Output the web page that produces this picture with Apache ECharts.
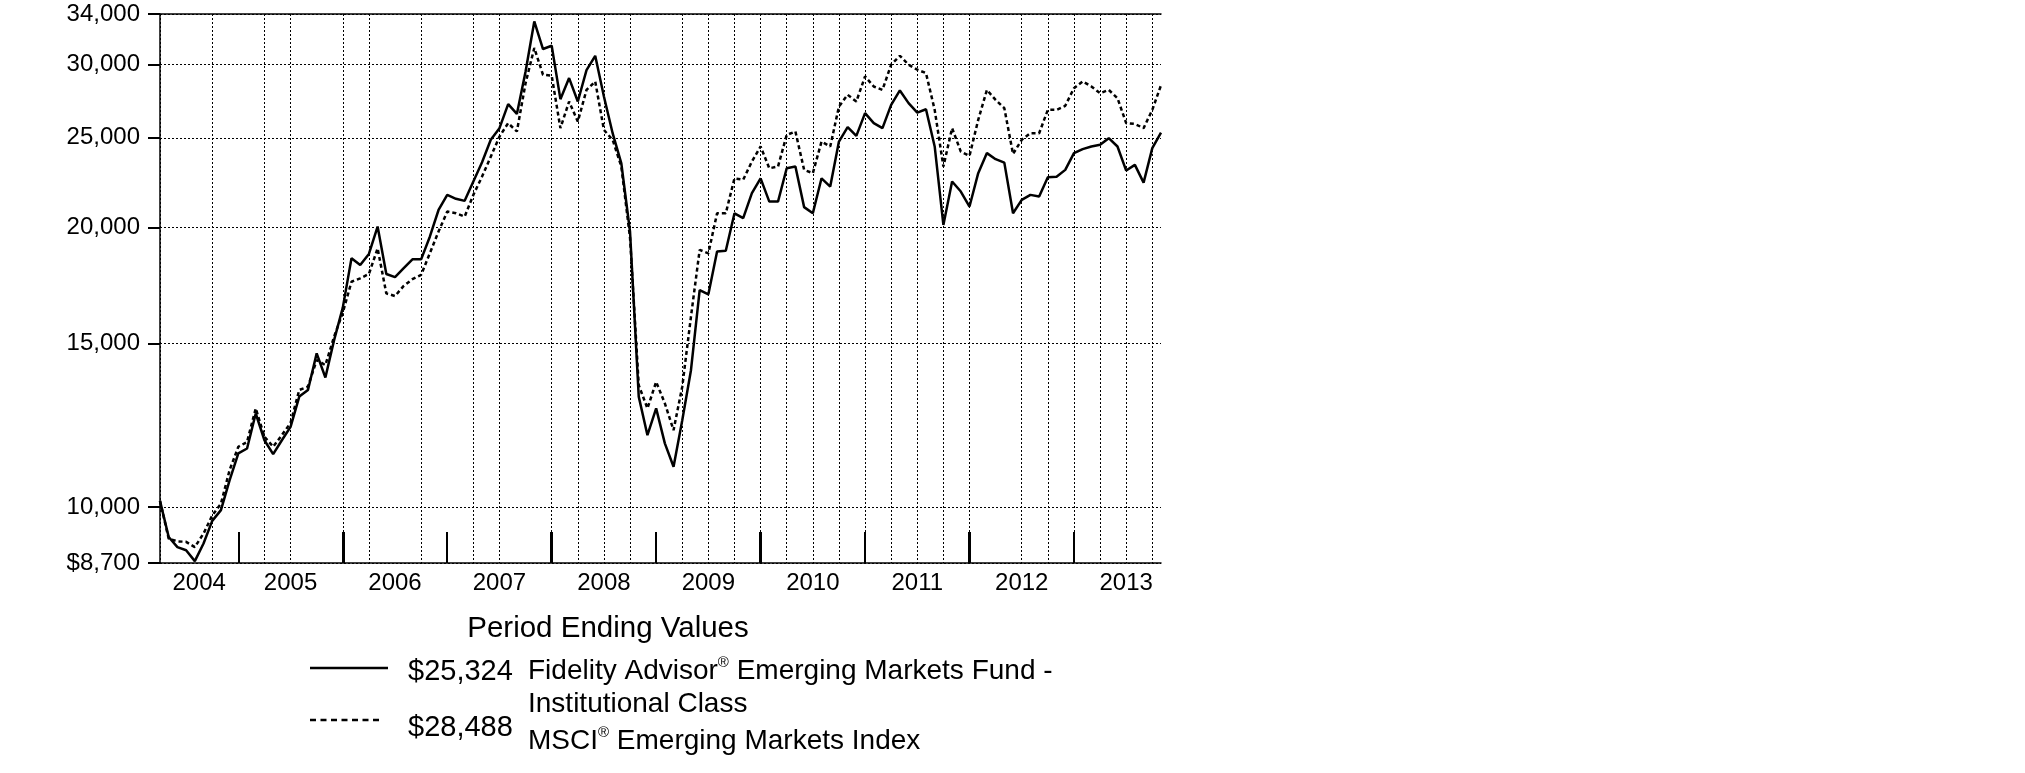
<!DOCTYPE html>
<html>
<head>
<meta charset="utf-8">
<script src="https://cdn.jsdelivr.net/npm/echarts@6/dist/echarts.min.js"></script>
<style>
html,body{margin:0;padding:0;background:#ffffff;}
#chart{width:2025px;height:773px;}
</style>
</head>
<body>
<div id="chart"></div>
<script>
// ---- data ----
const months = [
  '2004-03','2004-04','2004-05','2004-06','2004-07','2004-08','2004-09','2004-10','2004-11','2004-12',
  '2005-01','2005-02','2005-03','2005-04','2005-05','2005-06','2005-07','2005-08','2005-09','2005-10','2005-11','2005-12',
  '2006-01','2006-02','2006-03','2006-04','2006-05','2006-06','2006-07','2006-08','2006-09','2006-10','2006-11','2006-12',
  '2007-01','2007-02','2007-03','2007-04','2007-05','2007-06','2007-07','2007-08','2007-09','2007-10','2007-11','2007-12',
  '2008-01','2008-02','2008-03','2008-04','2008-05','2008-06','2008-07','2008-08','2008-09','2008-10','2008-11','2008-12',
  '2009-01','2009-02','2009-03','2009-04','2009-05','2009-06','2009-07','2009-08','2009-09','2009-10','2009-11','2009-12',
  '2010-01','2010-02','2010-03','2010-04','2010-05','2010-06','2010-07','2010-08','2010-09','2010-10','2010-11','2010-12',
  '2011-01','2011-02','2011-03','2011-04','2011-05','2011-06','2011-07','2011-08','2011-09','2011-10','2011-11','2011-12',
  '2012-01','2012-02','2012-03','2012-04','2012-05','2012-06','2012-07','2012-08','2012-09','2012-10','2012-11','2012-12',
  '2013-01','2013-02','2013-03','2013-04','2013-05','2013-06','2013-07','2013-08','2013-09','2013-10'
];

const fundValues = [
  10150, 9280, 9050, 8980, 8740, 9130, 9660, 9920, 10690, 11420,
  11560, 12610, 11800, 11400, 11800, 12200, 13150, 13370, 14640, 13790, 15130, 16400,
  18540, 18230, 18740, 20060, 17830, 17690, 18090, 18490, 18490, 19560, 20900, 21700,
  21490, 21380, 22430, 23530, 24880, 25610, 27180, 26530, 29480, 33380, 31170, 31420,
  27520, 29000, 27360, 29580, 30650, 27700, 25290, 23470, 19800, 13150, 11950, 12770,
  11710, 11050, 12400, 14040, 17130, 16950, 18850, 18890, 20730, 20480, 21790, 22610,
  21340, 21340, 23180, 23280, 21050, 20730, 22610, 22150, 24770, 25670, 25120, 26580,
  25930, 25610, 27130, 28120, 27250, 26620, 26840, 24470, 20140, 22430, 21880, 21080,
  22900, 24070, 23710, 23510, 20730, 21430, 21700, 21610, 22670, 22700, 23090, 24070,
  24310, 24470, 24570, 24980, 24470, 23050, 23380, 22370, 24370, 25324
];

const indexValues = [
  10150, 9240, 9180, 9170, 9050, 9360, 9790, 10080, 10960, 11610,
  11750, 12770, 11900, 11610, 11950, 12320, 13370, 13480, 14400, 14220, 15260, 16200,
  17490, 17640, 17830, 19000, 16990, 16880, 17310, 17600, 17790, 18770, 19810, 20820,
  20730, 20560, 21700, 22710, 23860, 25080, 25930, 25400, 28640, 31250, 29240, 29170,
  25610, 27360, 26030, 28160, 28760, 25500, 24880, 23280, 19500, 13530, 12770, 13640,
  12930, 12100, 13480, 16040, 18930, 18770, 20730, 20730, 22610, 22530, 23570, 24470,
  23180, 23280, 25180, 25400, 23090, 22900, 24770, 24470, 27020, 27820, 27360, 29120,
  28400, 28160, 29980, 30650, 29980, 29610, 29360, 26800, 23280, 25610, 24160, 23910,
  26140, 28160, 27470, 26910, 24020, 24880, 25290, 25290, 26800, 26800, 27070, 28280,
  28760, 28400, 27930, 28160, 27590, 25930, 25880, 25610, 26800, 28488
];

const yTickValues = [8700, 10000, 15000, 20000, 25000, 30000, 34000];
const yearLabels = ['2004','2005','2006','2007','2008','2009','2010','2011','2012','2013'];
const yearLabelAt = [4.5, 15, 27, 39, 51, 63, 75, 87, 99, 111];   // month index where each year label sits
const yearEndThin = [9, 33, 57, 81, 105];                           // month index of year-end ticks
const yearEndThick = [21, 45, 69, 93];
const gridMonths = [0,6,12,15,21,24,30,36,39,45,48,51,54,60,63,66,69,72,75,78,81,84,87,90,93,99,102,105,108,111,114];

const legendTitle = 'Period Ending Values';
const fundEnd = '$25,324';
const indexEnd = '$28,488';

// ---- chart ----
const FONT = '"Liberation Sans", Arial, Helvetica, sans-serif';
const yMin = Math.log10(yTickValues[0]);
const yMax = Math.log10(yTickValues[yTickValues.length - 1]);
const xMax = months.length - 1;
const yLogTicks = yTickValues.map(v => Math.log10(v));

function fmtThousands(n) {
  return String(n).replace(/\B(?=(\d{3})+(?!\d))/g, ',');
}

const chart = echarts.init(document.getElementById('chart'), null, {renderer: 'canvas'});

const baseX = {type: 'value', min: 0, max: xMax, gridIndex: 0};
const richName = {
  a: {fontSize: 28, fontFamily: FONT, fill: '#000', lineHeight: 31},
  r: {fontSize: 15, fontFamily: FONT, fill: '#000', verticalAlign: 'top', lineHeight: 31}
};
const option = {
  animation: false,
  backgroundColor: '#ffffff',
  grid: {left: 160, right: 864, top: 14, bottom: 210, containLabel: false},
  xAxis: [
    Object.assign({}, baseX, {
      position: 'bottom',
      axisLine: {show: true, onZero: false, lineStyle: {color: '#000', width: 1.5}},
      axisTick: {show: true, inside: true, length: 31, customValues: yearEndThin,
                 lineStyle: {color: '#000', width: 2}},
      axisLabel: {show: true, customValues: yearLabelAt, margin: 8,
                  formatter: v => yearLabels[yearLabelAt.indexOf(v)] || '',
                  color: '#000', fontSize: 24, fontFamily: FONT},
      splitLine: {show: false}
    }),
    Object.assign({}, baseX, {
      position: 'bottom',
      axisLine: {show: false, onZero: false},
      axisTick: {show: true, inside: true, length: 31, customValues: yearEndThick,
                 lineStyle: {color: '#000', width: 3}},
      axisLabel: {show: false},
      splitLine: {show: false}
    }),
    Object.assign({}, baseX, {
      position: 'bottom',
      axisLine: {show: false, onZero: false},
      axisTick: {show: false, customValues: gridMonths},
      axisLabel: {show: false},
      splitLine: {show: true, lineStyle: {color: '#000', width: 1, type: [2, 2]}}
    }),
    Object.assign({}, baseX, {
      position: 'top',
      axisLine: {show: true, onZero: false, lineStyle: {color: '#000', width: 1.5}},
      axisTick: {show: false},
      axisLabel: {show: false},
      splitLine: {show: false}
    })
  ],
  yAxis: [
    {
      type: 'value', min: yMin, max: yMax, position: 'left',
      axisLine: {show: false},
      axisTick: {show: true, length: 12, customValues: yLogTicks,
                 lineStyle: {color: '#000', width: 2}},
      axisLabel: {show: true, customValues: yLogTicks, margin: 20,
                  formatter: v => {
                    const n = Math.round(Math.pow(10, v));
                    const s = fmtThousands(n);
                    return n === yTickValues[0] ? '$' + s : s;
                  },
                  color: '#000', fontSize: 24, fontFamily: FONT},
      splitLine: {show: true, lineStyle: {color: '#000', width: 1, type: [2, 2]}}
    },
    {
      type: 'value', min: yMin, max: yMax, position: 'right',
      axisLine: {show: true, lineStyle: {color: '#000', width: 1.5}},
      axisTick: {show: false}, axisLabel: {show: false}, splitLine: {show: false}
    }
  ],
  series: [
    {
      name: 'MSCI Emerging Markets Index', type: 'line', xAxisIndex: 0, yAxisIndex: 0,
      data: indexValues.map((v, i) => [i, Math.log10(v)]),
      showSymbol: false, symbol: 'none', z: 3,
      lineStyle: {color: '#000', width: 2.5, type: [4, 3]}
    },
    {
      name: 'Fidelity Advisor Emerging Markets Fund - Institutional Class', type: 'line', xAxisIndex: 0, yAxisIndex: 0,
      data: fundValues.map((v, i) => [i, Math.log10(v)]),
      showSymbol: false, symbol: 'none', z: 4,
      lineStyle: {color: '#000', width: 2.5}
    }
  ],
  graphic: [
    {type: 'text', x: 608, y: 629,
     style: {text: legendTitle, fill: '#000', fontSize: 29.5, fontFamily: FONT,
             textAlign: 'center', textVerticalAlign: 'middle'}},
    {type: 'line', shape: {x1: 310, y1: 668, x2: 388, y2: 668},
     style: {stroke: '#000', lineWidth: 2.5}},
    {type: 'line', shape: {x1: 310, y1: 720, x2: 382, y2: 720},
     style: {stroke: '#000', lineWidth: 2.5, lineDash: [6, 4.5]}},
    {type: 'text', x: 408, y: 672,
     style: {text: fundEnd, fill: '#000', fontSize: 29, fontFamily: FONT,
             textAlign: 'left', textVerticalAlign: 'middle'}},
    {type: 'text', x: 408, y: 728,
     style: {text: indexEnd, fill: '#000', fontSize: 29, fontFamily: FONT,
             textAlign: 'left', textVerticalAlign: 'middle'}},
    {type: 'text', x: 528, y: 671,
     style: {text: '{a|Fidelity Advisor}{r|®}{a| Emerging Markets Fund -}',
             fill: '#000', textAlign: 'left', textVerticalAlign: 'middle', rich: richName}},
    {type: 'text', x: 528, y: 704,
     style: {text: 'Institutional Class', fill: '#000', fontSize: 28, fontFamily: FONT,
             textAlign: 'left', textVerticalAlign: 'middle'}},
    {type: 'text', x: 528, y: 741,
     style: {text: '{a|MSCI}{r|®}{a| Emerging Markets Index}',
             fill: '#000', textAlign: 'left', textVerticalAlign: 'middle', rich: richName}}
  ]
};
chart.setOption(option);
</script>
</body>
</html>
